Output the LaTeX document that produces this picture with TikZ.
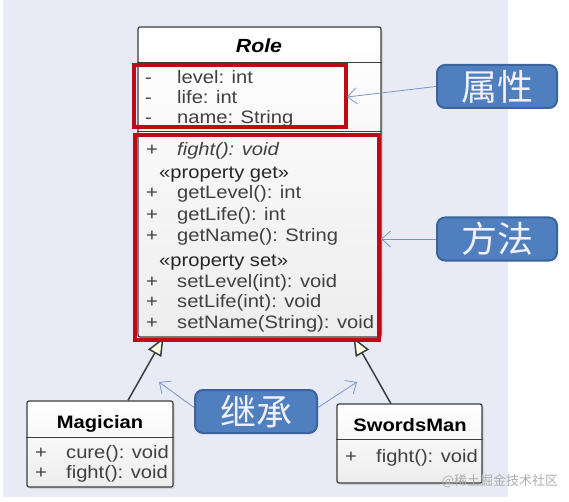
\documentclass[tikz,border=0pt]{standalone}
\usepackage{fontspec}
\setmainfont[FakeStretch=1.12]{Liberation Sans}
\newfontfamily\cjk{Noto Sans CJK SC}
\usepackage{xcolor}
\usepackage{tikz}
\usetikzlibrary{arrows.meta, positioning, calc, shadows}

\definecolor{pagebg}{RGB}{232,235,245}
\definecolor{umlgray}{RGB}{60,60,60}
\definecolor{membergray}{RGB}{64,64,64}
\definecolor{markred}{RGB}{190,10,20}
\definecolor{tagblue}{RGB}{79,127,190}
\definecolor{tagborder}{RGB}{58,100,155}
\definecolor{notecolor}{RGB}{120,150,195}
\definecolor{trifill}{RGB}{255,255,228}

\begin{document}
\begin{tikzpicture}[x=1pt, y=-1pt,
    classbox/.style={draw=umlgray, line width=1.2pt, rounded corners=2pt, inner sep=0pt,
      top color=white, bottom color=gray!14,
      drop shadow={opacity=0.2, shadow xshift=2pt, shadow yshift=-2pt}},
    classtitle/.style={anchor=base, inner sep=0pt, font=\bfseries\fontsize{18}{20}\selectfont},
    member/.style={anchor=base west, inner sep=0pt, text=membergray, font=\fontsize{18}{20}\selectfont},
    stereo/.style={anchor=base west, inner sep=0pt, text=black!85, font=\fontsize{18}{20}\selectfont},
    redmark/.style={draw=markred, line width=3.5pt},
    tag/.style={draw=tagborder, line width=2pt, fill=tagblue, rounded corners=8pt, text=white!94!blue,
      minimum width=120pt, minimum height=43pt, inner sep=0pt, font=\cjk\fontsize{36}{36}\selectfont},
    note/.style={draw=notecolor, line width=0.8pt, -{Straight Barb[length=9pt, width=16pt]}},
    inherit/.style={draw=umlgray, line width=1.5pt, -{Triangle[length=18pt, width=15pt, fill=trifill]}}]

    % page
    \useasboundingbox (0,0) rectangle (569,502);
    \fill[pagebg] (3,0) rectangle (508,497);

    % classes
    \node[classbox, minimum width=243pt, minimum height=310pt] (role) at (259.5,182) {};
    \node[classbox, minimum width=146pt, minimum height=86pt] (mag) at (100,444) {};
    \node[classbox, minimum width=145pt, minimum height=79pt] (sword) at (409.5,443.5) {};

    \draw[umlgray, line width=1.2pt] ($(role.north west)+(0,36)$) -- ($(role.north east)+(0,36)$);
    \draw[umlgray, line width=1.2pt] ($(role.north west)+(0,105)$) -- ($(role.north east)+(0,105)$);
    \draw[umlgray, line width=1.2pt] ($(mag.north west)+(0,37)$) -- ($(mag.north east)+(0,37)$);
    \draw[umlgray, line width=1.2pt] ($(sword.north west)+(0,36)$) -- ($(sword.north east)+(0,36)$);

    \node[classtitle, font=\bfseries\fontsize{19}{20}\selectfont] (roletitle) at (259,53) {\itshape Role};
    \node[classtitle] (magtitle) at (100,428) {Magician};
    \node[classtitle] (swordtitle) at (410,431) {SwordsMan};

    % Role members
    \foreach \txt/\yy [count=\i] in {level: int/84, life: int/104, name: String/124} {
        \node[member] (rs\i) at (145,\yy) {-};
        \node[member] (ra\i) at (177,\yy) {\txt};
    }
    \node[member] (fs) at (146,156) {+};
    \node[member] (fm) at (177,156) {\itshape fight(): void};
    \node[stereo] (getst) at (159,179) {«property get»};
    \foreach \txt/\yy [count=\i] in {getLevel(): int/199, getLife(): int/221, getName(): String/242} {
        \node[member] (gs\i) at (146,\yy) {+};
        \node[member] (gm\i) at (177,\yy) {\txt};
    }
    \node[stereo] (setst) at (159,266) {«property set»};
    \foreach \txt/\yy [count=\i] in {setLevel(int): void/287, setLife(int): void/307, setName(String): void/328} {
        \node[member] (ss\i) at (146,\yy) {+};
        \node[member] (sm\i) at (177,\yy) {\txt};
    }

    % subclass members
    \foreach \txt/\yy [count=\i] in {cure(): void/458, fight(): void/478} {
        \node[member] (ms\i) at (35,\yy) {+};
        \node[member] (mm\i) at (66,\yy) {\txt};
    }
    \node[member] (ws1) at (345,462) {+};
    \node[member] (wm1) at (376,462) {fight(): void};

    % generalisation
    \draw[inherit] ($(mag.north west)!0.69!(mag.north east)$) -- ($(role.south west)!0.107!(role.south east)$);
    \draw[inherit] ($(sword.north west)!0.372!(sword.north east)$) -- ($(role.south west)!0.885!(role.south east)$);

    % red highlight
    \draw[redmark] (134,65) rectangle (346,127);
    \draw[redmark] (135,135) rectangle (379,340);

    % callouts
    \node[tag] (attrtag) at (497,86.5) {属性};
    \node[tag] (methtag) at (497,239) {方法};
    \node[tag, minimum width=122pt] (inhtag) at (256,411.5) {继承};

    \coordinate (attrtip) at (347,97);
    \coordinate (methtip) at (381,239);
    \coordinate (inhleft) at (159,382);
    \coordinate (inhright) at (357,382);

    \draw[note] (attrtag.west) -- (attrtip);
    \draw[note] (methtag.west) -- (methtip);
    \draw[note] ([yshift=4pt]inhtag.west) -- (inhleft);
    \draw[note] ([yshift=4pt]inhtag.east) -- (inhright);

    \node[text=gray!65, font=\cjk\fontsize{13}{13}\selectfont] (mark) at (500,481) {@稀土掘金技术社区};
\end{tikzpicture}
\end{document}
